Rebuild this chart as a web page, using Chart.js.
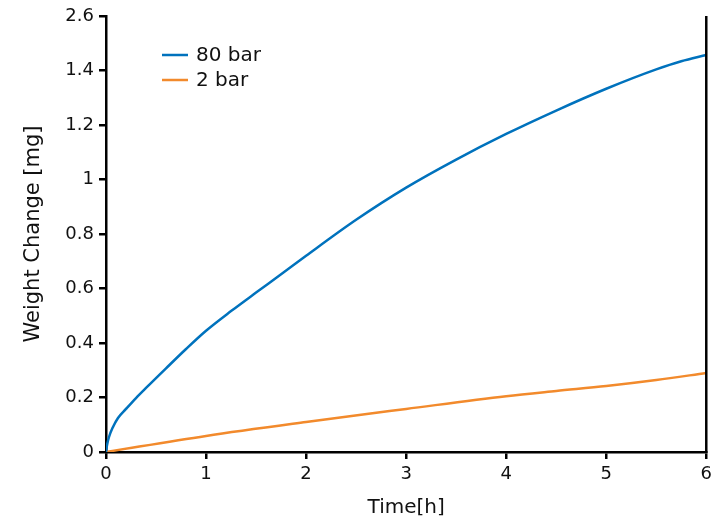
<!DOCTYPE html>
<html><head><meta charset="utf-8">
<script src="https://cdn.jsdelivr.net/npm/chart.js@4/dist/chart.umd.min.js"></script>
<style>html,body{margin:0;padding:0;background:#fff}#wrap{width:717px;height:520px}</style>
</head><body><div id="wrap"><canvas id="c" width="717" height="520"></canvas></div>
<script>
const timeH80 = [0, 0.01, 0.03, 0.07, 0.12, 0.2, 0.3, 0.4, 0.6, 0.8, 1.0, 1.25, 1.5, 1.75, 2.0, 2.5, 3.0, 3.5, 4.0, 4.5, 5.0, 5.5, 5.75, 6];
const bar80 = [0, 0.025, 0.055, 0.092, 0.125, 0.158, 0.198, 0.235, 0.307, 0.378, 0.445, 0.517, 0.585, 0.652, 0.72, 0.852, 0.97, 1.073, 1.167, 1.253, 1.333, 1.404, 1.434, 1.457];
const timeH2 = [0, 1, 2, 3, 4, 4.5, 5, 5.5, 6];
const bar2 = [0, 0.059, 0.11, 0.158, 0.205, 0.224, 0.242, 0.264, 0.29];
const yTickValues = [0, 0.2, 0.4, 0.6, 0.8, 1, 1.2, 1.4, 1.6];
const yTickLabels = ['0', '0.2', '0.4', '0.6', '0.8', '1', '1.2', '1.4', '2.6'];
const xTickLabels = ['0', '1', '2', '3', '4', '5', '6'];
const seriesNames = ['80 bar', '2 bar'];
const seriesColors = ['#0072BD', '#F28A2C'];

const FONT = 'DejaVu Sans';
const rightBorder = {
  id: 'rightBorder',
  afterDraw(chart) {
    const {ctx, chartArea: a} = chart;
    ctx.save();
    ctx.strokeStyle = '#000';
    ctx.lineWidth = 2.5;
    ctx.beginPath();
    ctx.moveTo(a.right, a.top);
    ctx.lineTo(a.right, a.bottom + 1);
    ctx.stroke();
    // legend inside plot
    ctx.font = '20px "' + FONT + '"';
    ctx.textBaseline = 'middle';
    chart.data.datasets.forEach((ds, i) => {
      const y = 55 + i * 25;
      ctx.strokeStyle = ds.borderColor;
      ctx.lineWidth = 2.5;
      ctx.beginPath();
      ctx.moveTo(162, y);
      ctx.lineTo(188, y);
      ctx.stroke();
      ctx.fillStyle = '#111';
      ctx.fillText(ds.label, 196, y + 1);
    });
    ctx.restore();
  }
};

new Chart(document.getElementById('c'), {
  type: 'line',
  data: {
    datasets: [
      {label: seriesNames[0], data: timeH80.map((t, i) => ({x: t, y: bar80[i]})), borderColor: seriesColors[0], borderWidth: 2.5, pointRadius: 0, cubicInterpolationMode: 'monotone', fill: false},
      {label: seriesNames[1], data: timeH2.map((t, i) => ({x: t, y: bar2[i]})), borderColor: seriesColors[1], borderWidth: 2.5, pointRadius: 0, cubicInterpolationMode: 'monotone', fill: false}
    ]
  },
  options: {
    responsive: false,
    animation: false,
    devicePixelRatio: 1,
    layout: {padding: {left: 0, top: 16, right: 6, bottom: 0}},
    plugins: {legend: {display: false}, tooltip: {enabled: false}},
    scales: {
      x: {
        type: 'linear', min: 0, max: 6,
        afterBuildTicks(s) { s.ticks = xTickLabels.map(v => ({value: Number(v)})); },
        afterFit(s) { s.height = 68; },
        ticks: {color: '#111', font: {family: FONT, size: 18}, padding: 5, maxRotation: 0, callback: (v, i) => xTickLabels[i]},
        grid: {drawOnChartArea: false, drawTicks: true, tickLength: 7, color: '#000', lineWidth: 2.5},
        border: {display: true, color: '#000', width: 2.5},
        title: {display: true, text: 'Time[h]', color: '#111', font: {family: FONT, size: 20}, padding: {top: 5, bottom: 0}}
      },
      y: {
        type: 'linear', min: 0, max: 1.6,
        afterBuildTicks(s) { s.ticks = yTickValues.map(v => ({value: v})); },
        afterFit(s) { s.width = 106; },
        ticks: {color: '#111', font: {family: FONT, size: 18}, padding: 5, callback: (v, i) => yTickLabels[i]},
        grid: {drawOnChartArea: false, drawTicks: true, tickLength: 7, color: '#000', lineWidth: 2.5},
        border: {display: true, color: '#000', width: 2.5},
        title: {display: true, text: 'Weight Change [mg]', color: '#111', font: {family: FONT, size: 21}, padding: {top: 21, bottom: 8}}
      }
    }
  },
  plugins: [rightBorder]
});
</script></body></html>
